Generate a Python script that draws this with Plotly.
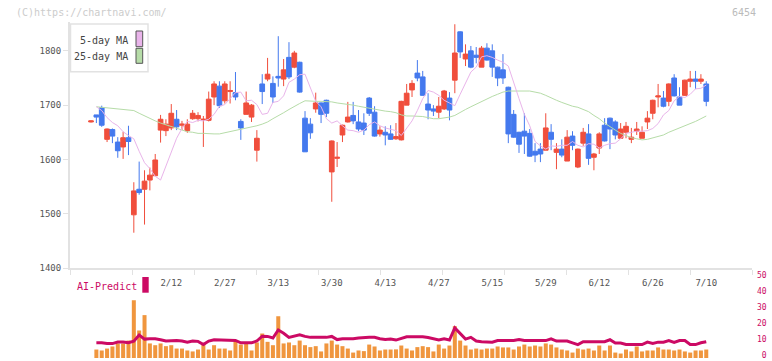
import plotly.graph_objects as go

# ---------------- data ----------------
open_ = [1669,1682,1695,1637,1655,1632,1623,1640,1498,1545,
         1545,1562,1570,1654,1653,1658,1674,1663,1653,1675,
         1675,1673,1672,1715,1735,1708,1725,1723,1670,1683,
         1678,1617,1739,1748,1740,1753,1748,1788,1770,1779,
         1676,1665,1693,1704,1709,1577,1602,1645,1669,1681,
         1669,1667,1713,1687,1647,1650,1647,1638,1636,1700,
         1728,1759,1752,1702,1693,1687,1693,1713,1746,1835,
         1785,1800,1792,1770,1805,1800,1770,1765,1733,1683,
         1650,1652,1648,1615,1619,1617,1650,1613,1619,1597,
         1643,1586,1630,1647,1604,1621,1663,1676,1669,1639,
         1650,1637,1652,1639,1669,1685,1715,1713,1707,1750,
         1715,1718,1744,1748,1744,1739]
high = [1672,1682,1699,1657,1657,1641,1651,1662,1558,1596,
        1580,1585,1610,1682,1674,1702,1691,1671,1674,1691,
        1687,1680,1725,1744,1744,1744,1744,1761,1674,1725,
        1702,1654,1757,1787,1753,1827,1785,1816,1800,1780,
        1689,1676,1723,1705,1710,1635,1632,1664,1706,1706,
        1691,1685,1715,1698,1661,1661,1663,1667,1708,1739,
        1746,1783,1763,1722,1700,1715,1728,1724,1849,1836,
        1812,1809,1807,1809,1814,1812,1771,1794,1734,1691,
        1651,1685,1656,1630,1630,1685,1665,1630,1637,1654,
        1652,1620,1658,1665,1612,1650,1676,1677,1672,1667,
        1669,1658,1669,1661,1689,1710,1739,1726,1740,1757,
        1733,1747,1763,1763,1757,1744]
low = [1668,1667,1660,1632,1630,1603,1601,1608,1465,1535,
       1480,1543,1570,1631,1643,1654,1654,1654,1649,1673,
       1670,1623,1670,1700,1695,1703,1703,1709,1636,1683,
       1669,1596,1702,1744,1704,1734,1735,1748,1768,1723,
       1614,1638,1686,1667,1678,1522,1586,1632,1668,1665,
       1652,1645,1680,1642,1642,1626,1636,1636,1635,1700,
       1715,1744,1718,1674,1680,1676,1691,1672,1722,1787,
       1772,1768,1777,1770,1782,1752,1735,1739,1630,1640,
       1612,1610,1605,1595,1595,1617,1617,1582,1604,1597,
       1617,1584,1625,1590,1580,1610,1633,1619,1637,1639,
       1639,1630,1645,1639,1656,1674,1696,1696,1698,1716,
       1700,1717,1733,1730,1739,1698]
close = [1671,1678,1663,1656,1643,1616,1640,1633,1542,1539,
         1560,1571,1599,1674,1665,1685,1660,1665,1665,1685,
         1681,1674,1711,1739,1699,1739,1727,1715,1658,1704,
         1700,1639,1725,1757,1715,1750,1765,1752,1796,1724,
         1614,1649,1704,1683,1685,1634,1604,1663,1678,1671,
         1656,1654,1685,1643,1654,1645,1637,1642,1707,1722,
         1740,1750,1718,1691,1689,1698,1726,1691,1796,1798,
         1794,1770,1788,1805,1783,1770,1750,1750,1647,1641,
         1628,1643,1606,1608,1610,1658,1637,1619,1608,1641,
         1626,1619,1650,1602,1610,1647,1634,1656,1645,1656,
         1661,1641,1656,1650,1676,1709,1717,1698,1739,1717,
         1700,1746,1748,1744,1748,1707]
ma5 = [None,1697,1690,1677,1668,1662,1651,1644,1638,1615,
       1594,1583,1569,1562,1589,1614,1639,1657,1670,1668,
       1672,1671,1674,1683,1698,1701,1712,1723,1724,1708,
       1709,1701,1683,1685,1705,1707,1717,1742,1748,1756,
       1757,1730,1707,1697,1675,1667,1671,1662,1654,1653,
       1650,1654,1664,1669,1662,1658,1656,1653,1644,1657,
       1671,1690,1712,1727,1724,1718,1709,1704,1699,1720,
       1742,1761,1770,1789,1791,1788,1783,1779,1772,1740,
       1712,1683,1662,1633,1625,1619,1625,1624,1626,1626,
       1633,1626,1623,1629,1628,1621,1626,1629,1630,1638,
       1648,1650,1652,1652,1653,1657,1666,1682,1690,1708,
       1716,1714,1720,1730,1731,1737]
ma25 = [None,1697,1696,1695,1695,1694,1693,1692,1690,1685,
        1680,1676,1671,1667,1664,1660,1657,1654,1651,1650,
        1648,1648,1647,1647,1647,1649,1651,1653,1655,1657,
        1659,1662,1665,1669,1675,1680,1686,1692,1698,1703,
        1708,1707,1707,1707,1707,1706,1704,1703,1701,1700,
        1698,1696,1694,1692,1690,1689,1688,1686,1682,1680,
        1680,1680,1679,1677,1675,1675,1676,1678,1681,1687,
        1692,1697,1702,1707,1711,1716,1720,1724,1726,1726,
        1726,1726,1726,1724,1722,1718,1713,1709,1705,1701,
        1698,1696,1692,1688,1681,1675,1667,1660,1654,1648,
        1644,1640,1638,1636,1637,1640,1643,1645,1650,1654,
        1658,1661,1665,1670,1675,1680]
volume = [None,5.3,4.7,5.9,7.2,9.1,9.1,10.9,36.1,17.2,
          26.8,9.1,8.0,9.1,7.4,8.0,5.9,5.9,4.7,4.1,
          5.3,9.5,5.3,8.0,5.9,5.9,4.7,10.1,8.4,9.1,
          4.7,9.7,15.3,10.1,8.0,26.1,9.1,9.7,8.0,10.9,
          8.0,6.8,7.4,4.1,9.1,10.9,8.4,7.4,5.9,3.4,
          4.7,4.3,8.4,7.2,4.7,5.3,5.3,5.4,7.8,5.9,
          4.7,6.8,7.4,6.8,4.1,8.4,5.9,7.8,19.9,10.9,
          7.8,5.3,5.9,5.3,5.9,5.9,7.2,6.6,6.6,5.3,
          7.2,8.4,7.2,7.8,7.2,9.1,8.4,6.6,5.3,4.7,
          3.4,5.9,5.3,5.9,4.7,7.8,4.7,7.8,3.4,2.8,
          5.3,4.1,7.2,4.1,4.7,4.7,6.6,5.3,5.3,4.7,
          5.3,4.1,3.4,4.7,4.7,5.3]
ai_predict = [None,9.5,9.5,9.0,9.0,10.0,10.0,9.5,10.5,14.3,
              11.8,12.0,12.0,11.4,10.6,10.8,11.0,10.6,9.9,10.6,
              10.4,8.4,10.6,11.4,11.4,11.4,11.4,11.0,9.5,9.5,
              9.5,10.6,13.6,13.5,12.5,17.5,15.5,12.9,13.5,14.5,
              13.5,12.9,12.9,12.9,12.9,13.5,11.5,12.0,12.0,12.0,
              12.5,12.9,12.9,12.9,12.0,11.6,11.8,11.2,12.5,13.3,
              13.3,13.3,13.3,12.8,12.0,11.2,12.0,11.2,18.8,15.0,
              11.8,12.9,10.6,10.2,9.9,9.9,10.9,10.9,10.9,10.9,
              11.5,10.9,10.9,10.9,10.9,10.9,12.0,10.6,10.6,10.6,
              9.5,8.4,10.2,10.2,10.2,10.2,10.2,11.4,9.3,9.3,
              8.4,8.4,8.4,8.4,9.9,9.1,9.9,9.9,10.9,9.7,
              10.9,10.9,8.4,8.4,9.5,10.2]
date_tick_index = [15, 25, 35, 45, 55, 65, 75, 85, 95, 105, 115]
date_tick_labels = ["2/12", "2/27", "3/13", "3/30", "4/13", "4/27",
                    "5/15", "5/29", "6/12", "6/26", "7/10"]
price_ticks = [1400, 1500, 1600, 1700, 1800]
vol_ticks = [0, 10, 20, 30, 40, 50]
vol_tick_labels = ["\u00a00", "10", "20", "30", "40", "50"]

x = list(range(len(close)))

# ---------------- styling ----------------
W, H = 772, 361
FONT = "DejaVu Sans Mono"
RED = "#f04e3c"
BLUE = "#4479ee"
PINK = "#e9b4ea"
GREEN = "#b6dca8"
CRIMSON = "#cc0a64"
ORANGE = "#f0963e"
AXIS = "#e2e2e2"

def px(v):
    return v / W

def py(v):
    return 1 - v / H

x_range = [-3.93, 123.55]
y_range = [1400, 1400 + 246 * 1.842]

fig = go.Figure()

fig.add_trace(go.Candlestick(
    x=x, open=open_, high=high, low=low, close=close,
    increasing=dict(line=dict(color=RED, width=1), fillcolor=RED),
    decreasing=dict(line=dict(color=BLUE, width=1), fillcolor=BLUE),
    whiskerwidth=0, showlegend=False, xaxis="x", yaxis="y",
))
fig.add_trace(go.Scatter(x=x, y=ma25, mode="lines", line=dict(color=GREEN, width=1),
                         showlegend=False, xaxis="x", yaxis="y"))
fig.add_trace(go.Scatter(x=x, y=ma5, mode="lines", line=dict(color=PINK, width=1),
                         showlegend=False, xaxis="x", yaxis="y"))

fig.add_trace(go.Bar(x=x, y=volume, marker=dict(color=ORANGE, line=dict(width=0)),
                     width=0.75, showlegend=False, xaxis="x2", yaxis="y2"))
fig.add_trace(go.Scatter(x=x, y=ai_predict, mode="lines", line=dict(color=CRIMSON, width=3),
                         showlegend=False, xaxis="x2", yaxis="y2"))

n_div = 11
grid_ticks = [x_range[0] + k * (x_range[1] - x_range[0]) / n_div for k in range(n_div + 1)]

fig.update_layout(
    width=W, height=H, autosize=False,
    margin=dict(l=0, r=0, t=0, b=0, pad=0),
    paper_bgcolor="white", plot_bgcolor="white",
    font=dict(family=FONT, size=9, color="#555"),
    boxgap=0.12, boxgroupgap=0,
    showlegend=False,
    xaxis=dict(
        domain=[px(70), px(752)], range=x_range, anchor="y", automargin=False,
        showline=True, linecolor=AXIS, linewidth=2,
        showgrid=False, zeroline=False,
        tickmode="array", tickvals=date_tick_index, ticktext=date_tick_labels,
        ticks="", ticklabelstandoff=5,
        tickfont=dict(family=FONT, size=9, color="#555"),
        minor=dict(tickmode="array", tickvals=grid_ticks, ticks="outside",
                   ticklen=5, tickcolor=AXIS, tickwidth=1, showgrid=False),
        rangeslider=dict(visible=False),
    ),
    yaxis=dict(
        domain=[py(268), py(22)], range=y_range, anchor="x", automargin=False,
        showline=True, linecolor=AXIS, linewidth=2,
        showgrid=False, zeroline=False,
        tickmode="array", tickvals=price_ticks,
        ticks="outside", ticklen=5, tickcolor=AXIS,
        tickfont=dict(family=FONT, size=9, color="#555"),
    ),
    xaxis2=dict(
        domain=[px(70), px(752)], range=x_range, anchor="y2", matches="x", automargin=False,
        showline=False, showgrid=False, zeroline=False,
        showticklabels=False, ticks="",
    ),
    yaxis2=dict(
        domain=[py(358), py(278)], range=[0, 50], anchor="x2", side="right", automargin=False,
        showline=False, showgrid=False, zeroline=False,
        tickmode="array", tickvals=vol_ticks, ticktext=vol_tick_labels,
        ticks="", ticklabelstandoff=4, ticklabelshift=-3, ticklabeloverflow="allow",
        tickfont=dict(family=FONT, size=8, color=CRIMSON),
    ),
)

shapes = [
    # legend box
    dict(type="rect", xref="paper", yref="paper", x0=px(70.5), x1=px(148), y0=py(71.7), y1=py(24),
         line=dict(color=AXIS, width=1.5), fillcolor="white", layer="above"),
    dict(type="rect", xref="paper", yref="paper", x0=px(136), x1=px(142.7), y0=py(46.7), y1=py(31),
         line=dict(color="#555", width=1), fillcolor=PINK, layer="above"),
    dict(type="rect", xref="paper", yref="paper", x0=px(136), x1=px(142.7), y0=py(63.3), y1=py(48.3),
         line=dict(color="#555", width=1), fillcolor=GREEN, layer="above"),
    # AI-Predict swatch
    dict(type="rect", xref="paper", yref="paper", x0=px(142.3), x1=px(148.7), y0=py(292.7), y1=py(277),
         line=dict(width=0), fillcolor=CRIMSON, layer="above"),
]
annotations = [
    dict(text="(C)https://chartnavi.com/", xref="paper", yref="paper", x=px(14), y=py(12),
         xanchor="left", yanchor="middle", showarrow=False, font=dict(family=FONT, size=10, color="#cccccc")),
    dict(text="6454", xref="paper", yref="paper", x=px(758), y=py(12),
         xanchor="right", yanchor="middle", showarrow=False, font=dict(family=FONT, size=10, color="#bbbbbb")),
    dict(text="5-day MA", xref="paper", yref="paper", x=px(130), y=py(40.5),
         xanchor="right", yanchor="middle", showarrow=False, font=dict(family=FONT, size=10, color="#444")),
    dict(text="25-day MA", xref="paper", yref="paper", x=px(130), y=py(56.5),
         xanchor="right", yanchor="middle", showarrow=False, font=dict(family=FONT, size=10, color="#444")),
    dict(text="AI-Predict", xref="paper", yref="paper", x=px(75), y=py(286),
         xanchor="left", yanchor="middle", showarrow=False, font=dict(family=FONT, size=10, color=CRIMSON)),
]
fig.update_layout(shapes=shapes, annotations=annotations)

fig.write_html("out.html")
